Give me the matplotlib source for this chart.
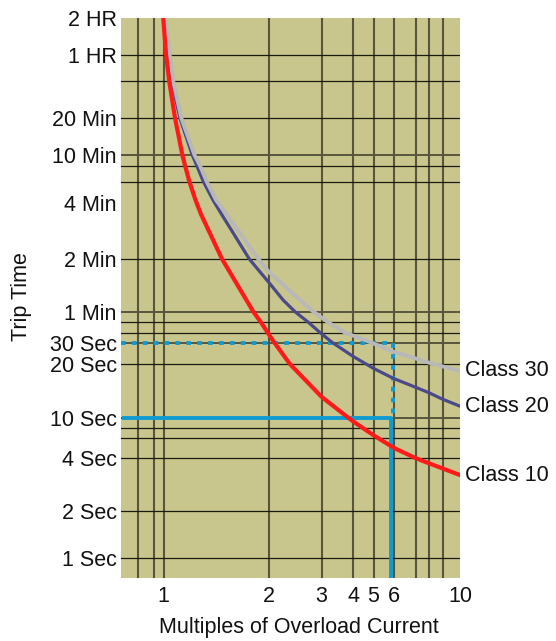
import numpy as np
import matplotlib
matplotlib.use("Agg")
import matplotlib.pyplot as plt
from matplotlib.ticker import FixedLocator, NullLocator

plt.rcParams['font.family'] = ['Liberation Sans', 'DejaVu Sans']

# dados das curvas (multiplos da corrente, tempo em segundos)
classe10_x = [0.998, 1.017, 1.038, 1.079, 1.132, 1.152, 1.185, 1.234, 1.279, 1.469, 1.804, 1.897,
              1.983, 2.083, 2.35, 3.0, 3.83, 4.0, 5.0, 6.0, 7.0, 8.0, 9.0, 10]
classe10_t = [7100, 3600, 2400, 1200, 600, 480, 360, 254, 209, 120, 60, 50,
              40, 30, 20, 13.1, 10, 9.25, 6.5, 4.93, 3.99, 3.73, 3.49, 3.2]

classe20_x = [1.003, 1.032, 1.055, 1.114, 1.208, 1.244, 1.299, 1.384, 1.464, 1.757, 2.0, 2.23,
              2.445, 2.71, 2.97, 3.31, 4.0, 5.0, 6.0, 7.0, 8.0, 9.0, 10]
classe20_t = [7100, 3600, 2400, 1200, 600, 480, 360, 254, 209, 120, 87.9, 70,
              60, 50, 40, 30, 23.1, 18.9, 16.6, 14.8, 13.8, 12.7, 11.6]

classe30_x = [1.013, 1.042, 1.066, 1.125, 1.226, 1.271, 1.328, 1.412, 1.513, 1.864, 2.0, 2.54,
              2.82, 3.19, 3.72, 4.48, 6.0, 7.0, 8.0, 9.0, 10]
classe30_t = [7100, 3600, 2400, 1200, 600, 480, 360, 254, 209, 120, 101, 70,
              60, 50, 40, 32.9, 25.2, 22.2, 20.5, 19.4, 18.3]

# ticks e grade
x_ticks = [1, 2, 3, 4, 5, 6, 10]
x_grade = [0.8, 0.9, 1, 2, 3, 4, 5, 6, 7, 8, 9]
y_ticks = [7200, 3600, 1200, 600, 240, 120, 60, 30, 20, 10, 4, 2, 1]
y_labels = ['2 HR', '1 HR', '20 Min', '10 Min', '4 Min', '2 Min', '1 Min',
            '30 Sec', '20 Sec', '10 Sec', '4 Sec', '2 Sec', '1 Sec']
y_grade_fina = [3600, 2400, 1200, 480, 360, 120, 50, 40, 20, 8, 6, 4, 2, 1]
y_grade_grossa = [600, 60, 30, 10]

# exemplo: 30 s (pontilhado) e 10 s (solido) em 6x
exemplo_pont_x = [0.7, 5.97, 5.97]
exemplo_pont_t = [30, 30, 10]
exemplo_sol_x = [0.715, 5.87, 5.87]
exemplo_sol_t = [10, 10, 0.74]

# escala "de papel" (nao e log perfeito no desenho original)
esc_x_val = [0.7, 0.8, 0.9, 1, 2, 3, 4, 5, 6, 7, 8, 9, 10]
esc_x_pos = [121, 138, 153.5, 163.5, 269, 321.5, 353, 373.5, 393.5, 415.7, 429, 442.5, 460]
esc_y_val = [0.74, 1, 2, 4, 6, 8, 10, 20, 30, 40, 50, 60, 120, 240, 360, 480, 600, 1200, 2400, 3600, 7200]
esc_y_pos = [578, 558, 511, 458, 438, 428, 417.7, 364, 342.5, 332.7, 322.3, 311.7, 259, 203, 181.5, 165.5, 155, 118.3, 81, 55, 18]

lx = np.log10(esc_x_val)
px = np.array(esc_x_pos)
ly = np.log10(esc_y_val)
py = -np.array(esc_y_pos)


def fx(v):
    return np.interp(np.log10(np.clip(v, 1e-9, None)), lx, px)


def ix(p):
    return 10 ** np.interp(p, px, lx)


def fy(v):
    return np.interp(np.log10(np.clip(v, 1e-9, None)), ly, py)


def iy(p):
    return 10 ** np.interp(p, py, ly)


fig = plt.figure(figsize=(5.56, 6.41), dpi=100)
ax = fig.add_axes([121 / 556, 1 - 578 / 641, 339 / 556, 560 / 641])
ax.set_facecolor('#c8c68c')
ax.set_xscale('function', functions=(fx, ix))
ax.set_yscale('function', functions=(fy, iy))
ax.set_xlim(0.7, 10)
ax.set_ylim(0.74, 7200)

for xv in x_grade:
    ax.axvline(xv, color='#57553c', lw=1.5, zorder=1)
for yv in y_grade_fina:
    ax.axhline(yv, color='#1a1a10', lw=0.9, zorder=1)
for yv in y_grade_grossa:
    ax.axhline(yv, color='#57553c', lw=1.4, zorder=1)

ax.plot(exemplo_pont_x, exemplo_pont_t, color='#0f9bd0', lw=2.8, ls=(0, (1.2, 1.6)), zorder=2)
ax.plot(exemplo_sol_x, exemplo_sol_t, color='#0f9bd0', lw=2.8, zorder=2)

ax.plot(classe20_x, classe20_t, color='#4a4a8a', lw=2.3, zorder=3, solid_joinstyle='round')
ax.plot(classe30_x, classe30_t, color='#b8b8b8', lw=2.8, zorder=4, solid_joinstyle='round')
ax.plot(classe10_x, classe10_t, color='#ff1a1a', lw=3.0, zorder=5, solid_joinstyle='round')

for nome, xs, ts in [('Class 30', classe30_x, classe30_t),
                     ('Class 20', classe20_x, classe20_t),
                     ('Class 10', classe10_x, classe10_t)]:
    ax.annotate(nome, (xs[-1], ts[-1]), xytext=(5, 0), textcoords='offset pixels',
                va='center', ha='left', fontsize=15.5, color='#111111', annotation_clip=False)

ax.xaxis.set_major_locator(FixedLocator(x_ticks))
ax.xaxis.set_minor_locator(NullLocator())
ax.set_xticklabels([str(v) for v in x_ticks])
ax.yaxis.set_major_locator(FixedLocator(y_ticks))
ax.yaxis.set_minor_locator(NullLocator())
ax.set_yticklabels(y_labels)
ax.tick_params(axis='both', length=0, labelsize=15.5, colors='#111111')
ax.tick_params(axis='x', pad=6)
ax.tick_params(axis='y', pad=3)
for s in ax.spines.values():
    s.set_visible(False)

fig.text(22 / 556, 1 - 297 / 641, 'Trip Time', rotation=90, ha='center', va='center',
         fontsize=15.5, color='#111111')
fig.text(299 / 556, 1 - 627 / 641, 'Multiples of Overload Current', ha='center', va='center',
         fontsize=15.5, color='#111111')

fig.savefig('out.png', dpi=100, facecolor='white')
